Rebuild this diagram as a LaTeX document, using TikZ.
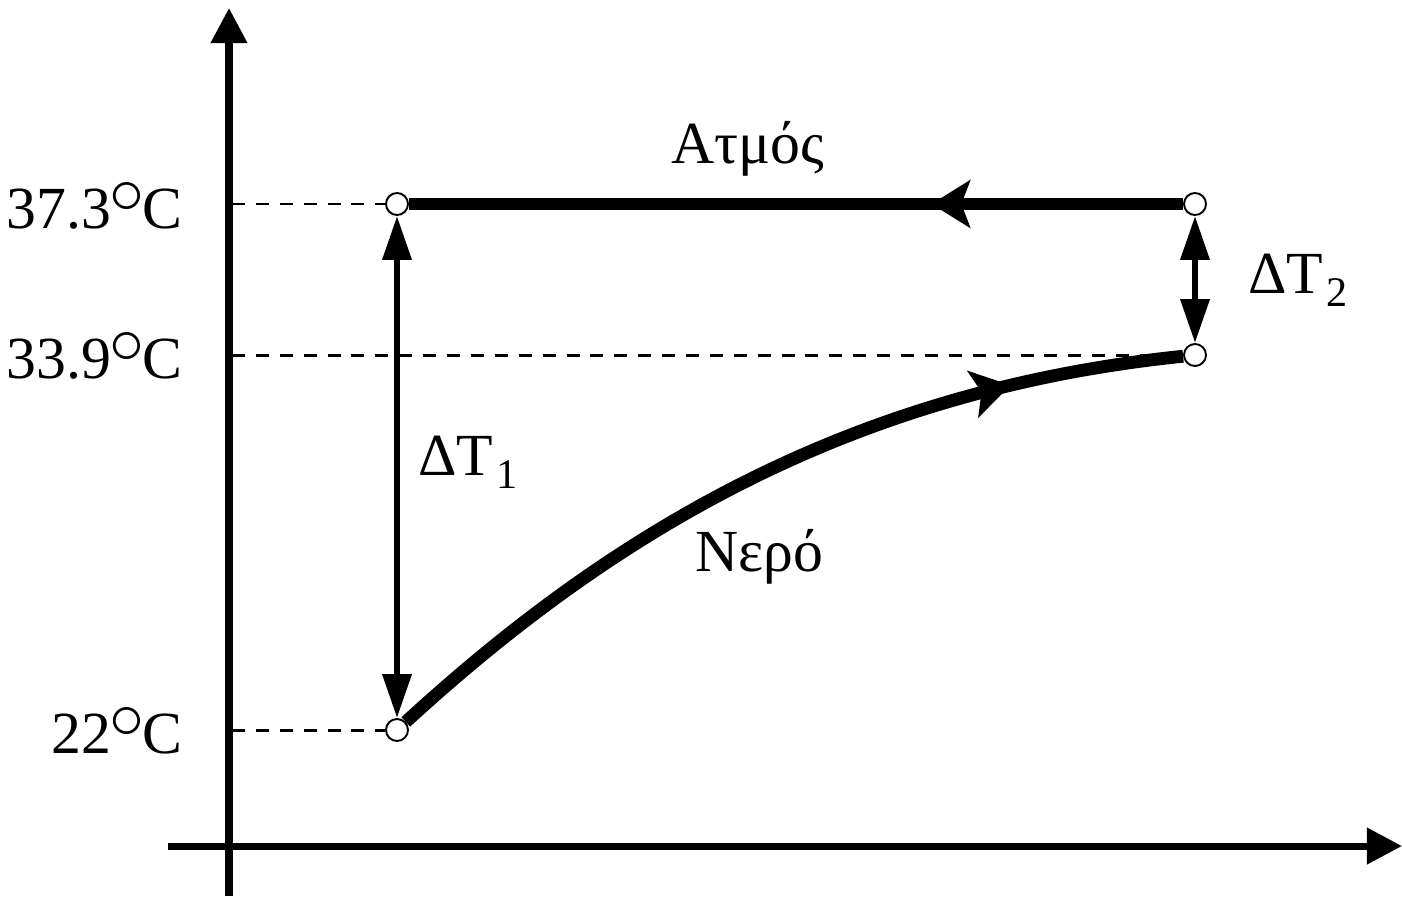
\documentclass[tikz,border=0pt]{standalone}
\usepackage{fontspec}
\usepackage{graphicx}
\setmainfont{Liberation Serif}
\usetikzlibrary{arrows.meta,decorations.markings}
\pgfdeclarelayer{bg}
\pgfsetlayers{bg,main}
\tikzset{tipS/.tip={Stealth[length=22pt,width=27pt,inset=5pt]}}
\newcommand\degsym{\kern-1pt\raisebox{8.5pt}{\scalebox{1.6}{$\circ$}}\kern-1pt}
\begin{document}
\begin{tikzpicture}[x=0.02cm,y=-0.02cm,
  pt/.style={circle,draw,fill=white,line width=1.1pt,minimum size=0.44cm,inner sep=0pt},
  lbl/.style={font=\fontsize{34}{40}\selectfont,inner sep=0pt},
  axis/.style={line width=4pt,-{Triangle[length=20pt,width=20pt]}},
  guide/.style={line width=1.7pt,dash pattern=on 7.4pt off 6.2pt},
  dbl/.style={line width=3.6pt,{Triangle[length=25pt,width=16pt]}-{Triangle[length=25pt,width=16pt]}},
  flow/.style={line width=7.3pt}
]
\useasboundingbox (0,0) rectangle (1402,896);
% axes
\coordinate (yb) at (229,896);
\coordinate (yt) at (229,8);
\coordinate (xl) at (168,846);
\coordinate (xr) at (1402,846);
\draw[axis] (yb) -- (yt);
\draw[axis] (xl) -- (xr);
% points
\node[pt] (c1) at (397,204) {};
\node[pt] (c2) at (1195,204) {};
\node[pt] (c3) at (1195,355) {};
\node[pt] (c4) at (397,730) {};
% axis anchors for guides
\coordinate (g1) at (232,204);
\coordinate (g2) at (232,355);
\coordinate (g3) at (232,730);
\begin{pgfonlayer}{bg}
\draw[guide] (g1) -- (c1);
\draw[guide] (g2) -- (c3);
\draw[guide] (g3) -- (c4);
\draw[flow,postaction={decorate},decoration={markings,mark=at position 0.325 with {\arrow{tipS}}}] (c2) -- (c1);
\draw[flow,postaction={decorate},decoration={markings,mark=at position 0.80 with {\arrow{tipS}}}] (c4) .. controls (617,528) and (855,390) .. (c3);
\draw[dbl] (c1) -- (c4);
\draw[dbl] (c2) -- (c3);
\end{pgfonlayer}
% labels
\node[lbl,anchor=base east] (l1) at (183,228) {37.3\degsym C};
\node[lbl,anchor=base east] (l2) at (183,378) {33.9\degsym C};
\node[lbl,anchor=base east] (l3) at (183,753) {22\degsym C};
\node[lbl,anchor=base] (atm) at (748,163) {Ατμός};
\node[lbl,anchor=base] (ner) at (759,571) {Νερό};
\node[lbl,anchor=base west] (dt1) at (418,475) {ΔT\kern2pt\raisebox{-7.5pt}{\fontsize{24}{28}\selectfont 1}};
\node[lbl,anchor=base west] (dt2) at (1248,293) {ΔT\kern2pt\raisebox{-7.5pt}{\fontsize{24}{28}\selectfont 2}};
\end{tikzpicture}
\end{document}
